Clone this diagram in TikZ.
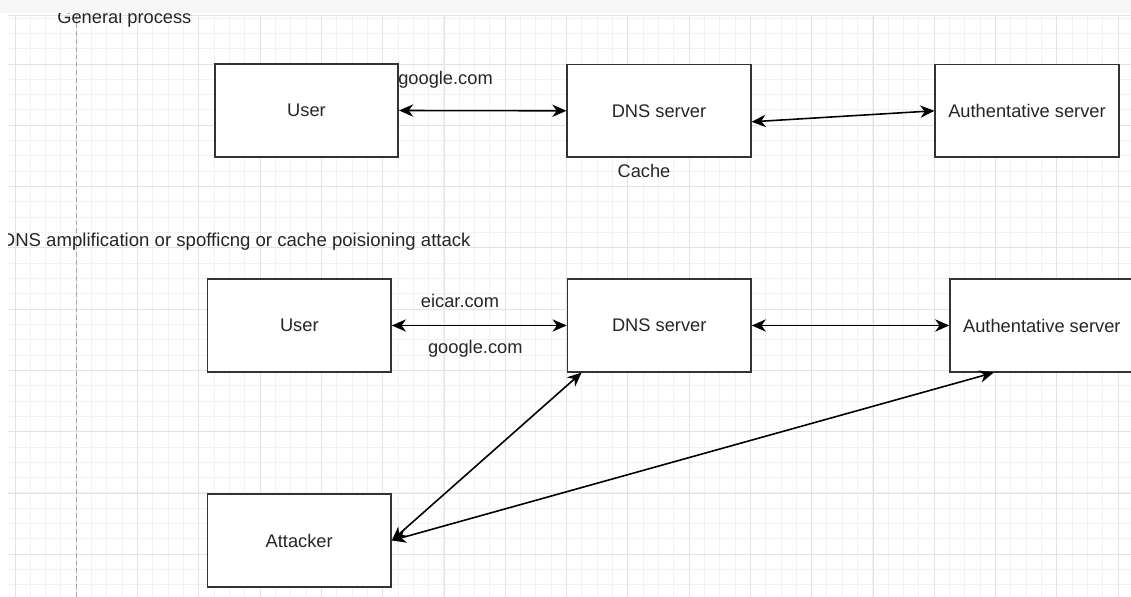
\documentclass[tikz,border=0pt]{standalone}
\usepackage{fontspec}
\setmainfont{Liberation Sans}
\usetikzlibrary{arrows.meta}
\begin{document}
\begin{tikzpicture}[x=0.02cm, y=-0.02cm,
    box/.style={draw=black!80, line width=1pt, fill=white, minimum width=3.67cm, minimum height=1.85cm, font=\fontsize{10.4}{12}\selectfont, text=black!85},
    lbl/.style={font=\fontsize{10.4}{12}\selectfont, text=black!85, inner sep=0pt},
    link/.style={line width=0.9pt, {Stealth[length=8pt,width=7pt,inset=2.5pt]}-{Stealth[length=8pt,width=7pt,inset=2.5pt]}}]
\useasboundingbox (0,0) rectangle (1131,597);
\fill[white] (0,0) rectangle (1131,597);
\foreach \x in {15,30.32,...,1131}
    \draw[black!5, line width=0.55pt] (\x,15) -- (\x,597);
\foreach \y in {18.04,33.36,...,597}
    \draw[black!5, line width=0.55pt] (8,\y) -- (1131,\y);
\foreach \x in {15,76.29,...,1131}
    \draw[black!11, line width=0.55pt] (\x,15) -- (\x,597);
\foreach \y in {64,125.29,...,597}
    \draw[black!11, line width=0.55pt] (8,\y) -- (1131,\y);
\draw[black!11, line width=0.55pt] (8,15) -- (1131,15);
\draw[black!35, line width=0.6pt, dash pattern=on 2.8pt off 1.7pt] (76.5,15) -- (76.5,597);
\node[lbl, anchor=base west] (title1) at (57,24) {General process};
\fill[black!3] (0,0) rectangle (1131,13.3);
\node[lbl, anchor=base west, font=\fontsize{10.58}{12}\selectfont] (title2) at (1.5,247) {DNS amplification or spofficng or cache poisioning attack};
\fill[white] (0,15) rectangle (8,597);
\node[box] (user1) at (306.5,110.5) {User};
\node[box] (dns1) at (659,110.8) {DNS server};
\node[box] (auth1) at (1027,110.8) {Authentative server};
\node[box] (user2) at (299.3,325.5) {User};
\node[box] (dns2) at (659.2,325.5) {DNS server};
\node[box] (auth2) at (1041.8,325.5) {Authentative server};
\node[box] (attacker) at (299.2,540.5) {Attacker};
\node[lbl, anchor=base] (query1) at (445.5,84.5) {google.com};
\node[lbl, anchor=base] (cache) at (644,177.3) {Cache};
\node[lbl, anchor=base] (query2) at (460,307.7) {eicar.com};
\node[lbl, anchor=base] (reply2) at (475.3,354) {google.com};
\draw[link] (user1.east) -- (dns1.west);
\draw[link] ([yshift=-0.22cm]dns1.east) -- (auth1.west);
\draw[link] (user2.east) -- (dns2.west);
\draw[link] (dns2.east) -- (auth2.west);
\draw[link] (attacker.east) -- ([xshift=0.3cm]dns2.south west);
\draw[link] (attacker.east) -- ([xshift=0.89cm]auth2.south west);
\end{tikzpicture}
\end{document}
